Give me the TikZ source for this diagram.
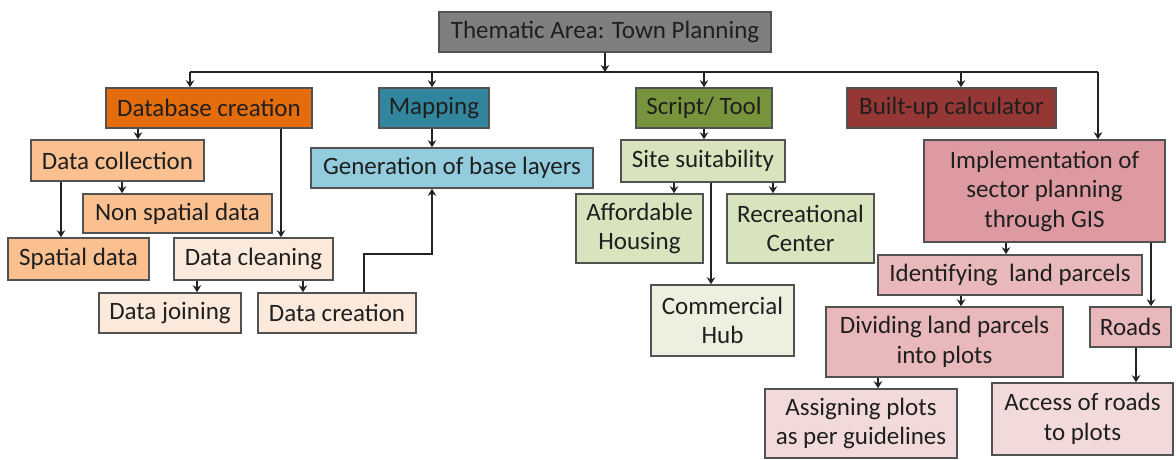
\documentclass[tikz,border=0pt]{standalone}
\usepackage{fontspec}
\setmainfont{Carlito}
\usetikzlibrary{arrows.meta}
\definecolor{cTop}{HTML}{7F7F7F}
\definecolor{cDb}{HTML}{E46C0A}
\definecolor{cMap}{HTML}{31859C}
\definecolor{cScr}{HTML}{77933C}
\definecolor{cBu}{HTML}{953735}
\definecolor{cOrL}{HTML}{FAC090}
\definecolor{cBeige}{HTML}{FBEADB}
\definecolor{cBlueL}{HTML}{93CDDD}
\definecolor{cGrL}{HTML}{D7E4BD}
\definecolor{cGrLL}{HTML}{EBF1DE}
\definecolor{cPk}{HTML}{DD9BA1}
\definecolor{cPkL}{HTML}{E8B8BB}
\definecolor{cPkLL}{HTML}{F3DADA}
\definecolor{cLine}{HTML}{222222}
\begin{document}
\begin{tikzpicture}[x=1pt,y=-1pt,
  box/.style={draw=black!68, line width=1.6pt, inner sep=0pt, align=center,
    font=\fontsize{25}{29.5}\selectfont, text=black!88},
  arr/.style={line width=2.2pt, draw=cLine, -{Stealth[length=7pt,width=8.5pt]}},
  ln/.style={line width=2.2pt, draw=cLine}]
\useasboundingbox[fill=white] (0,0) rectangle (1176,459);
% level 0
\node[box, fill=cTop, minimum width=332pt, minimum height=40pt] (top) at (605,32) {Thematic Area: Town Planning};
% level 1
\node[box, fill=cDb, minimum width=206pt, minimum height=40pt] (db) at (209,108) {Database creation};
\node[box, fill=cMap, minimum width=110pt, minimum height=40pt] (map) at (434,108) {Mapping};
\node[box, fill=cScr, minimum width=136pt, minimum height=40pt] (script) at (704,108) {Script/ Tool};
\node[box, fill=cBu, minimum width=209pt, minimum height=40pt] (built) at (951.5,108) {Built-up calculator};
% level 2
\node[box, fill=cOrL, minimum width=173pt, minimum height=41pt] (dcoll) at (117.5,160.5) {Data collection};
\node[box, fill=cBlueL, minimum width=282pt, minimum height=40pt] (gen) at (452,168) {Generation of base layers};
\node[box, fill=cGrL, minimum width=164pt, minimum height=42pt] (site) at (703,161) {Site suitability};
\node[box, fill=cPk, minimum width=241pt, minimum height=102pt] (impl) at (1044.5,191) {Implementation of\\sector planning\\through GIS};
% database branch
\node[box, fill=cOrL, minimum width=189pt, minimum height=39pt] (nonsp) at (177.5,213.5) {Non spatial data};
\node[box, fill=cOrL, minimum width=141pt, minimum height=42pt] (spat) at (78.5,259) {Spatial data};
\node[box, fill=cBeige, minimum width=159pt, minimum height=42pt] (dclean) at (253.5,259) {Data cleaning};
\node[box, fill=cBeige, minimum width=142pt, minimum height=40pt] (djoin) at (170,313) {Data joining};
\node[box, fill=cBeige, minimum width=158pt, minimum height=40pt] (dcreat) at (337,313) {Data creation};
% script branch
\node[box, fill=cGrL, minimum width=127pt, minimum height=69pt] (afford) at (639.5,228.5) {Affordable\\Housing};
\node[box, fill=cGrL, minimum width=147pt, minimum height=69pt] (recre) at (800.5,228.5) {Recreational\\Center};
\node[box, fill=cGrLL, minimum width=143pt, minimum height=71pt] (comm) at (722.5,320.5) {Commercial\\Hub};
% built-up branch
\node[box, fill=cPkL, minimum width=264pt, minimum height=40pt] (ident) at (1010,275) {Identifying\ \ land parcels};
\node[box, fill=cPkL, minimum width=237pt, minimum height=70pt] (divid) at (944.5,342) {Dividing land parcels\\into plots};
\node[box, fill=cPkL, minimum width=81pt, minimum height=40pt] (roads) at (1130.5,327) {Roads};
\node[box, fill=cPkLL, minimum width=192pt, minimum height=69pt] (assign) at (861,423.5) {Assigning plots\\as per guidelines};
\node[box, fill=cPkLL, minimum width=181pt, minimum height=72pt] (access) at (1082.5,419) {Access of roads\\to plots};
% bus
\coordinate (busL) at (190,72);
\coordinate (busR) at (1098,72);
\draw[arr] (top.south) -- (top.south |- busL);
\draw[ln] (busL) -- (busR);
\draw[arr] (busL) -- (busL |- db.north);
\draw[arr] ([xshift=-2pt]map.north |- busL) -- ([xshift=-2pt]map.north);
\draw[arr] (script.north |- busL) -- (script.north);
\draw[arr] ([xshift=9.5pt]built.north |- busL) -- ([xshift=9.5pt]built.north);
\draw[arr] (busR) -- (busR |- impl.north);
% database branch
\draw[arr] ([xshift=-71pt]db.south) -- ([xshift=-71pt]db.south |- dcoll.north);
\draw[arr] ([xshift=72pt]db.south) -- ([xshift=72pt]db.south |- dclean.north);
\draw[arr] ([xshift=-56.5pt]dcoll.south) -- ([xshift=-56.5pt]dcoll.south |- spat.north);
\draw[arr] ([xshift=4.5pt]dcoll.south) -- ([xshift=4.5pt]dcoll.south |- nonsp.north);
\draw[arr] ([xshift=-56.5pt]dclean.south) -- ([xshift=-56.5pt]dclean.south |- djoin.north);
\draw[arr] ([xshift=49.5pt]dclean.south) -- ([xshift=49.5pt]dclean.south |- dcreat.north);
\draw[arr] ([xshift=27pt]dcreat.north) -- ++(0,-38) -| ([xshift=-20pt]gen.south);
% mapping
\draw[arr] ([xshift=-2pt]map.south) -- ([xshift=-2pt]map.south |- gen.north);
% script branch
\draw[arr] (script.south) -- (script.south |- site.north);
\draw[arr] ([xshift=-29pt]site.south) -- ([xshift=-29pt]site.south |- afford.north);
\draw[arr] ([xshift=70pt]site.south) -- ([xshift=70pt]site.south |- recre.north);
\draw[arr] ([xshift=8pt]site.south) -- ([xshift=8pt]site.south |- comm.north);
% built-up branch
\draw[arr] ([xshift=-38.5pt]impl.south) -- ([xshift=-38.5pt]impl.south |- ident.north);
\draw[arr] ([xshift=106.5pt]impl.south) -- ([xshift=106.5pt]impl.south |- roads.north);
\draw[arr] ([xshift=-49pt]ident.south) -- ([xshift=-49pt]ident.south |- divid.north);
\draw[arr] ([xshift=-66.5pt]divid.south) -- ([xshift=-66.5pt]divid.south |- assign.north);
\draw[arr] ([xshift=5.5pt]roads.south) -- ([xshift=5.5pt]roads.south |- access.north);
\end{tikzpicture}
\end{document}
